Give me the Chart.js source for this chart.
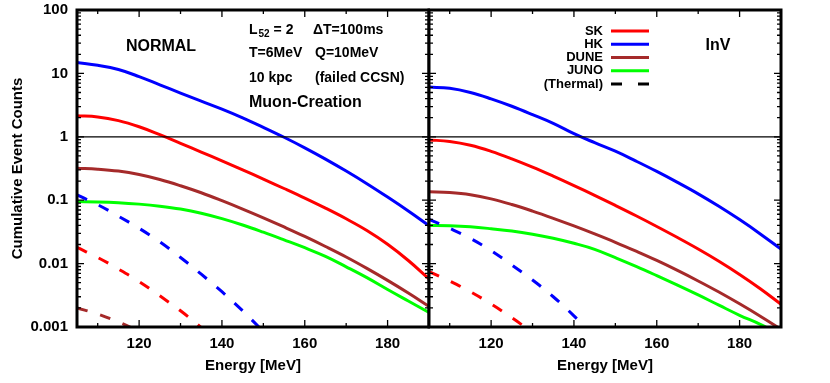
<!DOCTYPE html>
<html>
<head>
<meta charset="utf-8">
<script src="https://cdn.jsdelivr.net/npm/chart.js@4.4.1/dist/chart.umd.min.js"></script>
<style>
  html, body { margin: 0; padding: 0; background: #fff; }
  #wrap { position: relative; width: 830px; height: 383px; overflow: hidden; }
  canvas { position: absolute; top: 0; }
</style>
</head>
<body>
<div id="wrap">
  <canvas id="cNormal" width="430" height="383" style="left:0px"></canvas>
  <canvas id="cInv" width="411" height="383" style="left:419px"></canvas>
</div>
<script>
// ---------------- DATA ----------------
const energies = [105,110,115,120,125,130,135,140,145,150,155,160,165,170,175,180,185,190];

// NORMAL hierarchy (left panel)
const normalSK   = [2.15,2.06,1.8,1.44,1.08,0.79,0.575,0.417,0.301,0.215,0.153,0.108,0.075,0.0509,0.0333,0.0202,0.0112,0.00575];
const normalHK   = [14.8,13.4,11.5,8.9,6.6,4.9,3.65,2.73,1.99,1.41,0.984,0.67,0.445,0.288,0.182,0.112,0.0676,0.0398];
const normalDUNE = [0.32,0.309,0.288,0.254,0.212,0.169,0.131,0.0982,0.0724,0.0527,0.0378,0.0268,0.0186,0.0127,0.0084,0.00543,0.00343,0.00211];
const normalJUNO = [0.095,0.094,0.0914,0.0867,0.0804,0.0724,0.0624,0.0513,0.0407,0.0313,0.0237,0.0178,0.013,0.0089,0.006,0.0039,0.00257,0.0017];
const normalThermalHK   = [0.121,0.085,0.056,0.036,0.022,0.0125,0.0068,0.0036,0.0018,0.00085];
const normalThermalSK   = [0.018,0.0125,0.0082,0.0052,0.0031,0.0018,0.00098,0.0005];
const normalThermalDUNE = [0.002,0.0016,0.0012,0.00085];

// Inverted hierarchy (right panel)
const invSK   = [0.894,0.843,0.734,0.59,0.45,0.333,0.24,0.17,0.119,0.0826,0.0568,0.0385,0.0258,0.017,0.0109,0.00675,0.00402,0.00229];
const invHK   = [6.08,5.81,5.0,3.97,3.03,2.24,1.63,1.12,0.807,0.592,0.413,0.284,0.191,0.126,0.0802,0.0494,0.0294,0.0169];
const invDUNE = [0.136,0.132,0.122,0.105,0.0855,0.0673,0.0518,0.0393,0.0294,0.0217,0.0157,0.0112,0.0078,0.00532,0.00356,0.00232,0.00148,0.00092];
const invJUNO = [0.04,0.0395,0.038,0.0355,0.0327,0.0291,0.0251,0.0209,0.0168,0.0124,0.00904,0.00646,0.00457,0.0032,0.00221,0.00153,0.0011,0.00074];
const invThermalHK = [0.05,0.036,0.025,0.016,0.0095,0.0055,0.003,0.0015,0.0007];
const invThermalSK = [0.0075,0.0053,0.0036,0.0023,0.0014,0.00082];

const unityLine = [1, 1];
const unityRange = [105, 190];

const xTickLabels = [120, 140, 160, 180];
const xMinorTicks = [110, 130, 150, 170, 190];
const yTickValues = [0.001, 0.01, 0.1, 1, 10, 100];
const yTickLabels = ['0.001', '0.01', '0.1', '1', '10', '100'];
const legendLabels = ['SK', 'HK', 'DUNE', 'JUNO', '(Thermal)'];

// ---------------- STYLE ----------------
const FONT = '"Liberation Sans", Arial, Helvetica, sans-serif';
const C = { SK: '#ff0000', HK: '#0000ff', DUNE: '#a52a2a', JUNO: '#00ff00' };
const DASH = [11, 13];

function pts(arr) { return arr.map((v, i) => ({ x: energies[i], y: v })); }
function line(arr, color, dashed) {
  return {
    data: pts(arr), borderColor: color, borderWidth: 3, pointRadius: 0,
    borderDash: dashed ? DASH : [], tension: 0.4,
    clip: 0, fill: false
  };
}
function unity() {
  return { data: unityRange.map((e, i) => ({ x: e, y: unityLine[i] })), borderColor: '#000',
    borderWidth: 1.2, pointRadius: 0, tension: 0, clip: 0, fill: false };
}

const frameTicks = {
  id: 'frameTicks',
  afterDatasetsDraw(chart) {
    const { ctx, chartArea: { left, right, top, bottom }, scales: { x, y } } = chart;
    ctx.save();
    ctx.strokeStyle = '#000';
    ctx.lineWidth = 1.3;
    ctx.beginPath();
    const xt = xTickLabels.map(v => [v, 7]).concat(xMinorTicks.map(v => [v, 4]));
    xt.forEach(([v, len]) => {
      const px = x.getPixelForValue(v);
      ctx.moveTo(px, bottom); ctx.lineTo(px, bottom - len);
      ctx.moveTo(px, top); ctx.lineTo(px, top + len);
    });
    yTickValues.forEach((d, di) => {
      const py = y.getPixelForValue(d);
      ctx.moveTo(left, py); ctx.lineTo(left + 7, py);
      ctx.moveTo(right, py); ctx.lineTo(right - 7, py);
      if (di < yTickValues.length - 1) {
        for (let k = 2; k <= 9; k++) {
          const pm = y.getPixelForValue(d * k);
          ctx.moveTo(left, pm); ctx.lineTo(left + 4, pm);
          ctx.moveTo(right, pm); ctx.lineTo(right - 4, pm);
        }
      }
    });
    ctx.stroke();
    ctx.lineWidth = 3;
    ctx.strokeRect(left, top, right - left, bottom - top);
    ctx.restore();
  }
};

const normalText = {
  id: 'normalText',
  afterDraw(chart) {
    const ctx = chart.ctx;
    ctx.save();
    ctx.fillStyle = '#000';
    ctx.textBaseline = 'middle';
    ctx.font = 'bold 16px ' + FONT;
    ctx.textAlign = 'center';
    ctx.fillText('NORMAL', 161, 47);
    ctx.textAlign = 'left';
    ctx.font = 'bold 14px ' + FONT;
    ctx.fillText('L', 249, 30);
    let w = ctx.measureText('L').width;
    ctx.font = 'bold 10px ' + FONT;
    ctx.fillText('52', 249 + w + 1, 34);
    let w2 = ctx.measureText('52').width;
    ctx.font = 'bold 14px ' + FONT;
    ctx.fillText(' = 2', 249 + w + 1 + w2, 30);
    ctx.fillText('\u0394T=100ms', 313, 30);
    ctx.fillText('T=6MeV', 249, 53);
    ctx.fillText('Q=10MeV', 315, 53);
    ctx.fillText('10 kpc', 249, 78);
    ctx.fillText('(failed CCSN)', 315, 78);
    ctx.font = 'bold 16px ' + FONT;
    ctx.fillText('Muon-Creation', 249, 103);
    ctx.restore();
  }
};

const invText = {
  id: 'invText',
  afterDraw(chart) {
    const ctx = chart.ctx;
    ctx.save();
    ctx.fillStyle = '#000';
    ctx.textBaseline = 'middle';
    ctx.font = 'bold 16px ' + FONT;
    ctx.textAlign = 'center';
    ctx.fillText('InV', 299, 46);
    ctx.font = 'bold 13px ' + FONT;
    ctx.textAlign = 'right';
    const colors = [C.SK, C.HK, C.DUNE, C.JUNO, '#000'];
    legendLabels.forEach((lab, i) => {
      const yy = 31 + i * 13.25;
      ctx.fillText(lab, 184, yy);
      ctx.beginPath();
      ctx.strokeStyle = colors[i];
      ctx.lineWidth = 3;
      ctx.setLineDash(i === 4 ? [11, 16] : []);
      ctx.moveTo(192, yy); ctx.lineTo(230, yy);
      ctx.stroke();
    });
    ctx.restore();
  }
};

function xScale() {
  return {
    type: 'linear', min: 105, max: 190,
    grid: { display: false, drawTicks: false }, border: { display: false },
    ticks: { color: '#000', font: { family: FONT, size: 15, weight: 'bold' }, padding: 8,
      autoSkip: false, maxRotation: 0, callback: v => String(v) },
    afterBuildTicks: s => { s.ticks = xTickLabels.map(v => ({ value: v })); },
    afterFit: s => { s.height = 56; s.paddingLeft = 0; s.paddingRight = 0; },
    title: { display: true, text: 'Energy [MeV]', color: '#000',
      font: { family: FONT, size: 15, weight: 'bold' }, padding: { top: 0, bottom: 8 } }
  };
}
function yScale(show) {
  return {
    type: 'logarithmic', min: 0.001, max: 100, display: show,
    grid: { display: false, drawTicks: false }, border: { display: false },
    ticks: { color: '#000', font: { family: FONT, size: 15, weight: 'bold' }, padding: 9,
      autoSkip: false, callback: v => { const i = yTickValues.indexOf(v); return i >= 0 ? yTickLabels[i] : ''; } },
    afterBuildTicks: s => { s.ticks = yTickValues.map(v => ({ value: v })); },
    afterFit: s => { s.width = show ? 77 : 0; s.paddingTop = 0; s.paddingBottom = 0; },
    title: { display: show, text: 'Cumulative Event Counts', color: '#000',
      font: { family: FONT, size: 15, weight: 'bold' }, padding: { top: 9, bottom: 0 } }
  };
}
function baseOptions(padding, showY) {
  return {
    responsive: false, animation: false, devicePixelRatio: 1,
    layout: { padding },
    plugins: { legend: { display: false }, tooltip: { enabled: false } },
    scales: { x: xScale(), y: yScale(showY) }
  };
}

new Chart(document.getElementById('cNormal'), {
  type: 'line',
  data: { datasets: [
    unity(),
    line(normalThermalDUNE, C.DUNE, true),
    line(normalThermalSK, C.SK, true),
    line(normalThermalHK, C.HK, true),
    line(normalJUNO, C.JUNO, false),
    line(normalDUNE, C.DUNE, false),
    line(normalSK, C.SK, false),
    line(normalHK, C.HK, false)
  ] },
  options: baseOptions({ top: 10, left: 0, right: 1, bottom: 0 }, true),
  plugins: [frameTicks, normalText]
});

new Chart(document.getElementById('cInv'), {
  type: 'line',
  data: { datasets: [
    unity(),
    line(invThermalSK, C.SK, true),
    line(invThermalHK, C.HK, true),
    line(invJUNO, C.JUNO, false),
    line(invDUNE, C.DUNE, false),
    line(invSK, C.SK, false),
    line(invHK, C.HK, false)
  ] },
  options: baseOptions({ top: 10, left: 10, right: 49, bottom: 0 }, false),
  plugins: [frameTicks, invText]
});
</script>
</body>
</html>
